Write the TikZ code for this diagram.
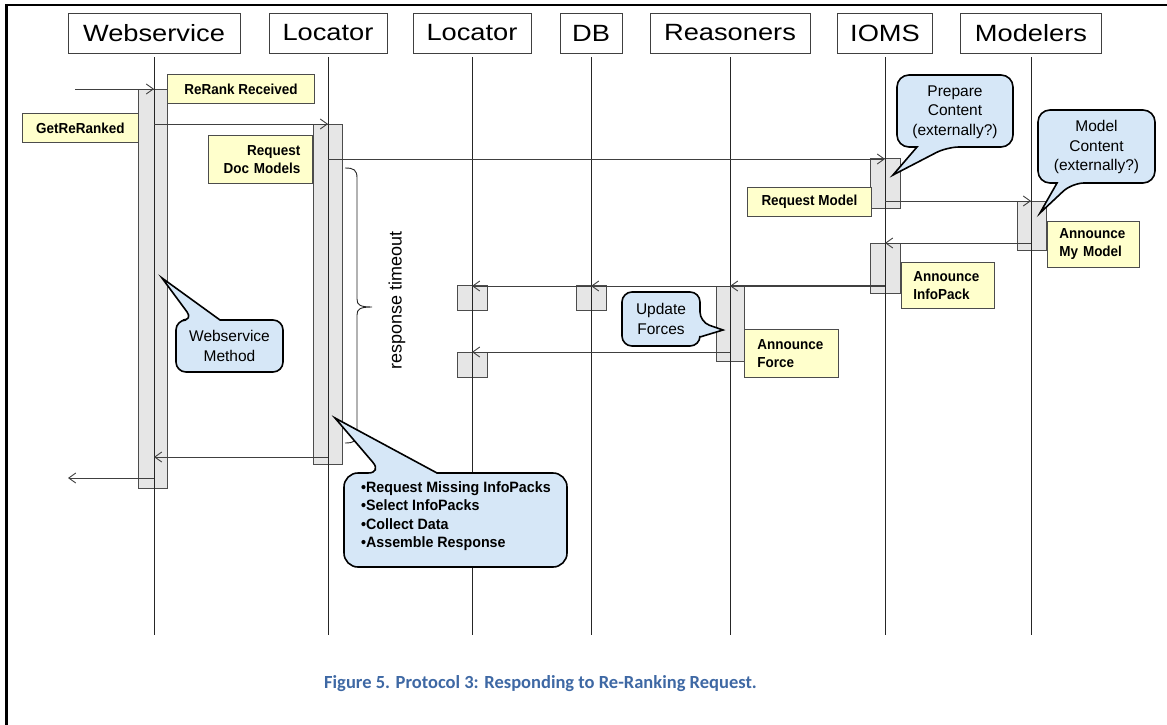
\documentclass[tikz,border=0pt]{standalone}
\usepackage{fontspec}
\setmainfont{Liberation Sans}
\newfontfamily\hdrfont[FakeStretch=1.16]{Liberation Sans}
\newfontfamily\notefont[FakeStretch=0.93]{Liberation Sans}
\newfontfamily\bigcallfont[FakeStretch=0.95]{Liberation Sans}
\newfontfamily\capfont{Carlito}
\usetikzlibrary{arrows.meta}
\definecolor{notefill}{RGB}{255,255,204}
\definecolor{callfill}{RGB}{214,231,247}
\definecolor{actfill}{RGB}{230,230,230}
\definecolor{capblue}{RGB}{62,104,164}
\begin{document}
\begin{tikzpicture}[x=1pt,y=-1pt,
  hdr/.style={draw=black!75, line width=0.8pt, fill=white, minimum height=40pt, inner sep=0pt, font=\hdrfont\fontsize{23.5}{26}\selectfont},
  life/.style={draw=black!85, line width=0.9pt},
  act/.style={draw=black!70, fill=actfill, line width=0.9pt},
  note/.style={draw=black!70, fill=notefill, line width=0.9pt, inner ysep=0pt, anchor=north west, font=\notefont\bfseries\fontsize{14.5}{18}\selectfont},
  msg/.style={draw=black!75, line width=0.9pt, -{Straight Barb[length=7pt,width=10pt,line width=0.9pt]}},
  callbox/.style={draw=black, line width=1.6pt, fill=callfill},
  calltext/.style={font=\fontsize{15.5}{19.5}\selectfont, align=center, inner sep=0pt},
]
\useasboundingbox (0,0) rectangle (1167,725);
% frame
\draw[line width=2.2pt] (6.5,725) -- (6.5,5) -- (1167,5);

% header boxes
\node[hdr, minimum width=172pt] (hWS) at (154,33) {Webservice};
\node[hdr, minimum width=118pt] (hLoc) at (328,33) {Locator};
\node[hdr, minimum width=118pt] (hLocB) at (472,33) {Locator};
\node[hdr, minimum width=62pt] (hDB) at (591,33) {DB};
\node[hdr, minimum width=160pt] (hRe) at (730,33) {Reasoners};
\node[hdr, minimum width=95pt] (hIO) at (885,33) {IOMS};
\node[hdr, minimum width=141pt] (hMo) at (1031,33) {Modelers};

% lifeline ends
\coordinate (eWS) at (154,635);
\coordinate (eLoc) at (328,635);
\coordinate (eLocB) at (472,635);
\coordinate (eDB) at (591,635);
\coordinate (eRe) at (730,635);
\coordinate (eIO) at (885,635);
\coordinate (eMo) at (1031,635);

% activation boxes
\filldraw[act] (138,89) rectangle (167,488);
\filldraw[act] (313,124) rectangle (342,464);
\filldraw[act] (870,158) rectangle (900,208);
\filldraw[act] (1017,201) rectangle (1046,250);
\filldraw[act] (870,243) rectangle (900,293);
\filldraw[act] (716,286) rectangle (744,361);
\filldraw[act] (457,285) rectangle (487,310);
\filldraw[act] (457,352) rectangle (487,377);
\filldraw[act] (576,285) rectangle (606,310);

% lifelines
\foreach \h/\e in {hWS/eWS, hLoc/eLoc, hLocB/eLocB, hDB/eDB, hRe/eRe, hIO/eIO, hMo/eMo}
  \draw[life] ([yshift=-4pt]\h.south) -- (\e);

% message points
\coordinate (inS) at (75,89);   \coordinate (wsA) at (154,89);
\coordinate (wsB) at (154,124); \coordinate (locB) at (328,124);
\coordinate (locC) at (328,159); \coordinate (ioC) at (885,159);
\coordinate (ioD) at (885,201); \coordinate (moD) at (1031,201);
\coordinate (moE) at (1031,243); \coordinate (ioE) at (885,243);
\coordinate (ioF) at (885,286); \coordinate (reF) at (730,286);
\coordinate (dbF) at (591,286); \coordinate (lbF) at (472,286);
\coordinate (reG) at (730,352); \coordinate (lbG) at (472,352);
\coordinate (locH) at (328,457); \coordinate (wsH) at (154,457);
\coordinate (wsI) at (154,478); \coordinate (outE) at (68,478);

% messages
\draw[msg] (inS) -- (wsA);
\draw[msg] (wsB) -- (locB);
\draw[msg] (locC) -- (ioC);
\draw[msg] (ioD) -- (moD);
\draw[msg] (moE) -- (ioE);
\draw[msg, line width=1.8pt, -{Straight Barb[length=7pt,width=10pt,line width=0.9pt]}] (ioF) -- (reF);
\draw[msg] (reF) -- (dbF);
\draw[msg] (reF) -- (lbF);
\draw[msg] (reG) -- (lbG);
\draw[msg] (locH) -- (wsH);
\draw[msg] (wsI) -- (outE);

% notes
\node[note, minimum width=147pt, minimum height=29pt] (nRR) at (167,74) {ReRank Received};
\node[note, minimum width=116pt, minimum height=29pt] (nGR) at (22,113) {GetReRanked};
\node[note, minimum height=48pt, inner xsep=12pt, text width=80pt, align=right] (nRDM) at (208,135) {Request\\Doc Models};
\node[note, minimum width=124pt, minimum height=29pt] (nRM) at (747,187) {Request Model};
\node[note, minimum height=46pt, inner xsep=12pt, text width=68pt, align=left] (nAMM) at (1047,221) {Announce\\My Model};
\node[note, minimum height=46pt, inner xsep=12pt, text width=69pt, align=left] (nAIP) at (901,262) {Announce\\InfoPack};
\node[note, minimum height=48pt, inner xsep=13pt, text width=68pt, align=left] (nAF) at (744,329) {Announce\\Force};

% response timeout brace
\draw[black!85, line width=0.9pt] (345,168) .. controls (354,168) and (357,170) .. (357,178) -- (357,299)
  .. controls (357,305) and (360,307) .. (372,307) .. controls (360,307) and (357,309) .. (357,315)
  -- (357,434) .. controls (357,441) and (354,443) .. (345,443);
\node[rotate=90, font=\fontsize{18}{20}\selectfont, inner sep=0pt] (tmo) at (397,300) {response timeout};

% callout: Webservice Method
\path[callbox] (176,346) [rounded corners=10pt] -- (176,320) -- (193,320) [sharp corners] -- (162,278) -- (220,320) [rounded corners=10pt] -- (283,320) -- (283,372) -- (176,372) -- cycle;
\node[calltext] (cWM) at (229.5,346) {Webservice\\Method};

% callout: big list
\path[callbox] (344,520) [rounded corners=14pt] -- (344,473) -- (382,473) [sharp corners] -- (335,418) -- (437,473) [rounded corners=14pt] -- (567,473) -- (567,567) -- (344,567) -- cycle;
\node[font=\bigcallfont\bfseries\fontsize{15}{18.5}\selectfont, align=left, inner sep=0pt, anchor=north west] (cList) at (361,481)
  {\textbullet Request Missing InfoPacks\\\textbullet Select InfoPacks\\\textbullet Collect Data\\\textbullet Assemble Response};

% callout: Update Forces
\path[callbox] (661,292) [rounded corners=10pt] -- (700,292) -- (700,322) [sharp corners] -- (723,330) -- (700,337) [rounded corners=10pt] -- (700,346) -- (622,346) -- (622,292) -- cycle;
\node[calltext] (cUF) at (661,319) {Update\\Forces};

% callout: Prepare Content
\path[callbox] (955,75) [rounded corners=12pt] -- (1013,75) -- (1013,147) -- (947,147) [sharp corners] -- (893,175) -- (917,147) [rounded corners=12pt] -- (897,147) -- (897,75) -- cycle;
\node[calltext] (cPC) at (955,112) {Prepare\\Content\\(externally?)};

% callout: Model Content
\path[callbox] (1096,110) [rounded corners=12pt] -- (1155,110) -- (1155,183) -- (1072,183) [sharp corners] -- (1040,213) -- (1057,183) [rounded corners=12pt] -- (1038,183) -- (1038,110) -- cycle;
\node[calltext] (cMC) at (1096.5,147) {Model\\Content\\(externally?)};

% caption
\node[font=\capfont\bfseries\fontsize{18.5}{22}\selectfont, text=capblue, inner sep=0pt, anchor=base west] (cap) at (324,688) {Figure 5. Protocol 3: Responding to Re-Ranking Request.};
\end{tikzpicture}
\end{document}
